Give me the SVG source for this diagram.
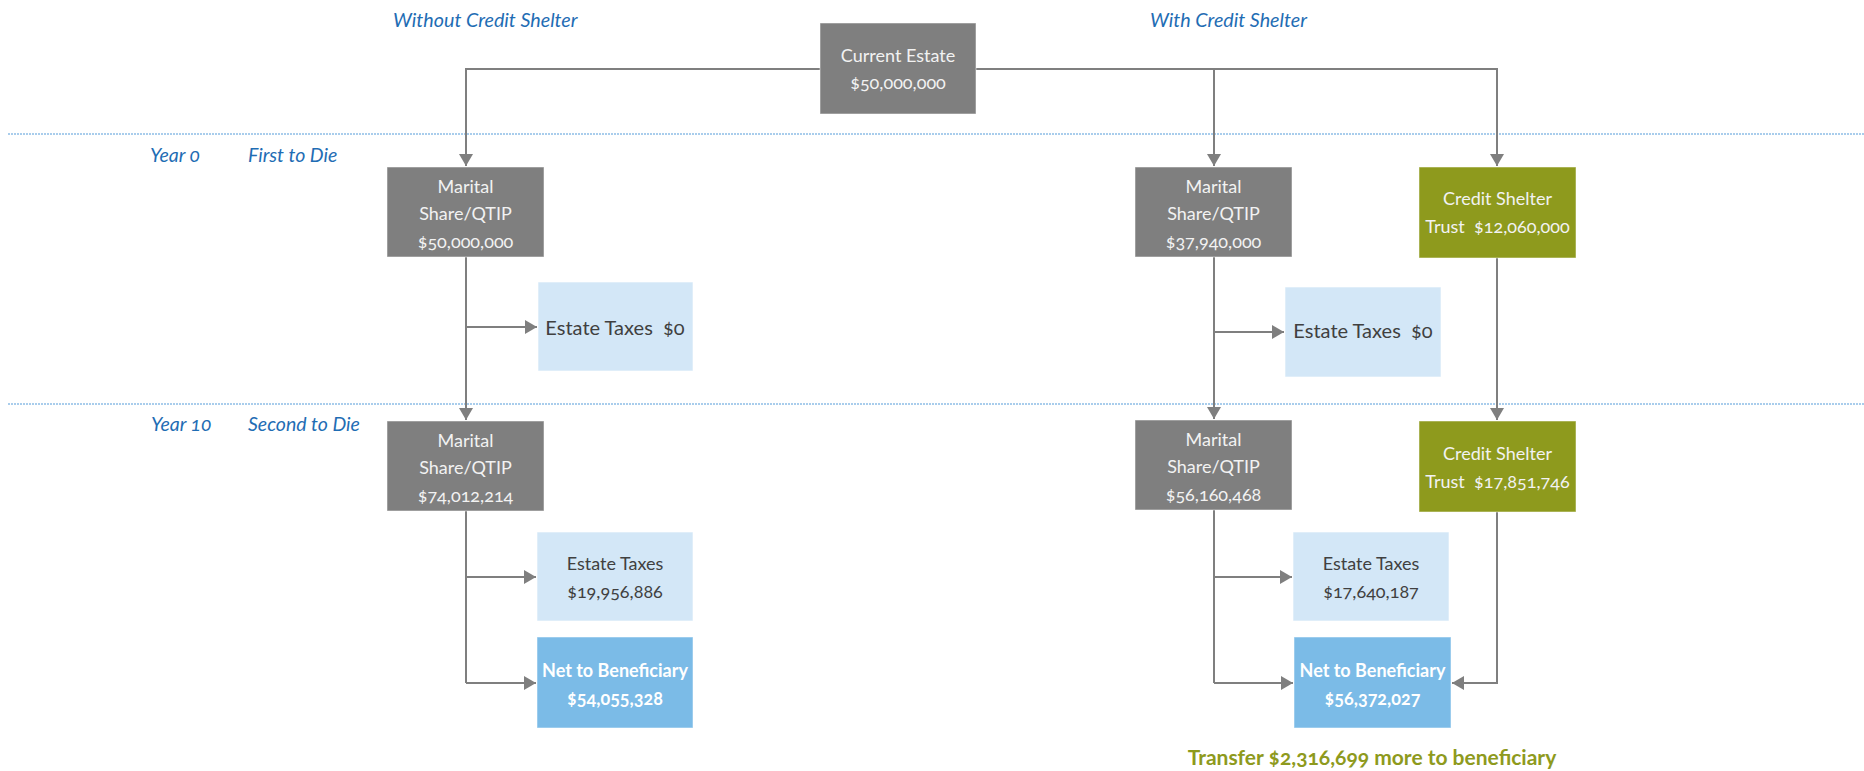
<svg xmlns="http://www.w3.org/2000/svg" width="1864" height="771" viewBox="0 0 1864 771">
<defs>
<marker id="ah" markerUnits="userSpaceOnUse" markerWidth="13" markerHeight="14" refX="12" refY="7" orient="auto">
<path d="M0,0 L12,7 L0,14 z" fill="#7f7f7f"/>
</marker>
<style>
.bg{fill:#ffffff}
.div{stroke:#a9cdec;stroke-width:2;stroke-dasharray:2 1;fill:none}
.con{stroke:#7f7f7f;stroke-width:2;fill:none}
.arr{marker-end:url(#ah)}
.gray{fill:#7f7f7f;stroke:#ffffff;stroke-opacity:0.5;stroke-width:1}
.olive{fill:#8e9a1d;stroke:#ffffff;stroke-opacity:0.5;stroke-width:1}
.lb{fill:#d3e7f7;stroke:#ffffff;stroke-opacity:0.6;stroke-width:1}
.nb{fill:#7bbbe7;stroke:#ffffff;stroke-opacity:0.5;stroke-width:1}
text{font-family:Lato,"Open Sans","Liberation Sans",sans-serif;white-space:pre;font-feature-settings:"onum"}
.wt{fill:#f2f2f2;font-size:18px;text-anchor:middle}
.dk{fill:#404040;font-size:18px;text-anchor:middle}
.dk1{fill:#404040;font-size:20px;text-anchor:middle}
.bw{fill:#ffffff;font-size:18px;font-weight:bold;text-anchor:middle}
.hd{fill:#1f6db4;font-size:19.7px;font-style:italic}
.yr{fill:#1f6db4;font-size:19.5px;font-style:italic}
.tr{fill:#8e9a1d;font-size:21px;font-weight:bold;text-anchor:middle}
</style>
</defs>
<rect class="bg" x="0" y="0" width="1864" height="771"/>

<g id="dividers">
<line class="div" x1="8" y1="134" x2="1864" y2="134"/>
<line class="div" x1="8" y1="404" x2="1864" y2="404"/>
</g>

<g id="labels">
<text class="hd" x="393" y="27">Without Credit Shelter</text>
<text class="hd" x="1150" y="27">With Credit Shelter</text>
<text class="yr" x="150" y="162">Year 0</text>
<text class="yr" x="248" y="162">First to Die</text>
<text class="yr" x="151" y="431">Year 10</text>
<text class="yr" x="248" y="431">Second to Die</text>
</g>

<g id="connectors">
<polyline class="con" points="898,69 466,69 466,166" marker-end="url(#ah)"/>
<polyline class="con" points="898,69 1497,69 1497,166" marker-end="url(#ah)"/>
<line class="con arr" x1="1214" y1="69" x2="1214" y2="166"/>
<line class="con arr" x1="466" y1="257" x2="466" y2="420"/>
<line class="con arr" x1="466" y1="327" x2="537" y2="327"/>
<line class="con arr" x1="1214" y1="257" x2="1214" y2="419"/>
<line class="con arr" x1="1214" y1="332" x2="1284" y2="332"/>
<line class="con arr" x1="1497" y1="257" x2="1497" y2="420"/>
<line class="con" x1="466" y1="511" x2="466" y2="683"/>
<line class="con arr" x1="466" y1="577" x2="536" y2="577"/>
<polyline class="con" points="466,683 536,683" marker-end="url(#ah)"/>
<line class="con" x1="1214" y1="510" x2="1214" y2="683"/>
<line class="con arr" x1="1214" y1="577" x2="1292" y2="577"/>
<polyline class="con" points="1214,683 1293,683" marker-end="url(#ah)"/>
<polyline class="con" points="1497,512 1497,683 1452,683" marker-end="url(#ah)"/>
</g>

<g id="current-estate">
<rect class="gray" x="820" y="23" width="156" height="91"/>
<text class="wt" x="898" y="62">Current Estate</text>
<text class="wt" x="898" y="89">$50,000,000</text>
</g>

<g id="marital-1-no-cs">
<rect class="gray" x="387" y="167" width="157" height="90"/>
<text class="wt" x="465.5" y="193">Marital</text>
<text class="wt" x="465.5" y="220">Share/QTIP</text>
<text class="wt" x="465.5" y="248">$50,000,000</text>
</g>

<g id="marital-1-cs">
<rect class="gray" x="1135" y="167" width="157" height="90"/>
<text class="wt" x="1213.5" y="193">Marital</text>
<text class="wt" x="1213.5" y="220">Share/QTIP</text>
<text class="wt" x="1213.5" y="248">$37,940,000</text>
</g>

<g id="credit-shelter-1">
<rect class="olive" x="1419" y="167" width="157" height="91"/>
<text class="wt" x="1497.5" y="205">Credit Shelter</text>
<text class="wt" x="1497.5" y="233">Trust  $12,060,000</text>
</g>

<g id="estate-taxes-1-no-cs">
<rect class="lb" x="538" y="282" width="155" height="89"/>
<text class="dk1" x="615" y="335">Estate Taxes  $0</text>
</g>

<g id="estate-taxes-1-cs">
<rect class="lb" x="1285" y="287" width="156" height="90"/>
<text class="dk1" x="1363" y="338">Estate Taxes  $0</text>
</g>

<g id="marital-2-no-cs">
<rect class="gray" x="387" y="421" width="157" height="90"/>
<text class="wt" x="465.5" y="447">Marital</text>
<text class="wt" x="465.5" y="474">Share/QTIP</text>
<text class="wt" x="465.5" y="502">$74,012,214</text>
</g>

<g id="marital-2-cs">
<rect class="gray" x="1135" y="420" width="157" height="90"/>
<text class="wt" x="1213.5" y="446">Marital</text>
<text class="wt" x="1213.5" y="473">Share/QTIP</text>
<text class="wt" x="1213.5" y="501">$56,160,468</text>
</g>

<g id="credit-shelter-2">
<rect class="olive" x="1419" y="421" width="157" height="91"/>
<text class="wt" x="1497.5" y="460">Credit Shelter</text>
<text class="wt" x="1497.5" y="488">Trust  $17,851,746</text>
</g>

<g id="estate-taxes-2-no-cs">
<rect class="lb" x="537" y="532" width="156" height="89"/>
<text class="dk" x="615" y="570">Estate Taxes</text>
<text class="dk" x="615" y="598">$19,956,886</text>
</g>

<g id="estate-taxes-2-cs">
<rect class="lb" x="1293" y="532" width="156" height="89"/>
<text class="dk" x="1371" y="570">Estate Taxes</text>
<text class="dk" x="1371" y="598">$17,640,187</text>
</g>

<g id="net-no-cs">
<rect class="nb" x="537" y="637" width="156" height="91"/>
<text class="bw" x="615" y="677">Net to Beneficiary</text>
<text class="bw" x="615" y="705">$54,055,328</text>
</g>

<g id="net-cs">
<rect class="nb" x="1294" y="637" width="157" height="91"/>
<text class="bw" x="1372.5" y="677">Net to Beneficiary</text>
<text class="bw" x="1372.5" y="705">$56,372,027</text>
</g>

<g id="transfer-note">
<text class="tr" x="1372" y="765">Transfer $2,316,699 more to beneficiary</text>
</g>
</svg>
